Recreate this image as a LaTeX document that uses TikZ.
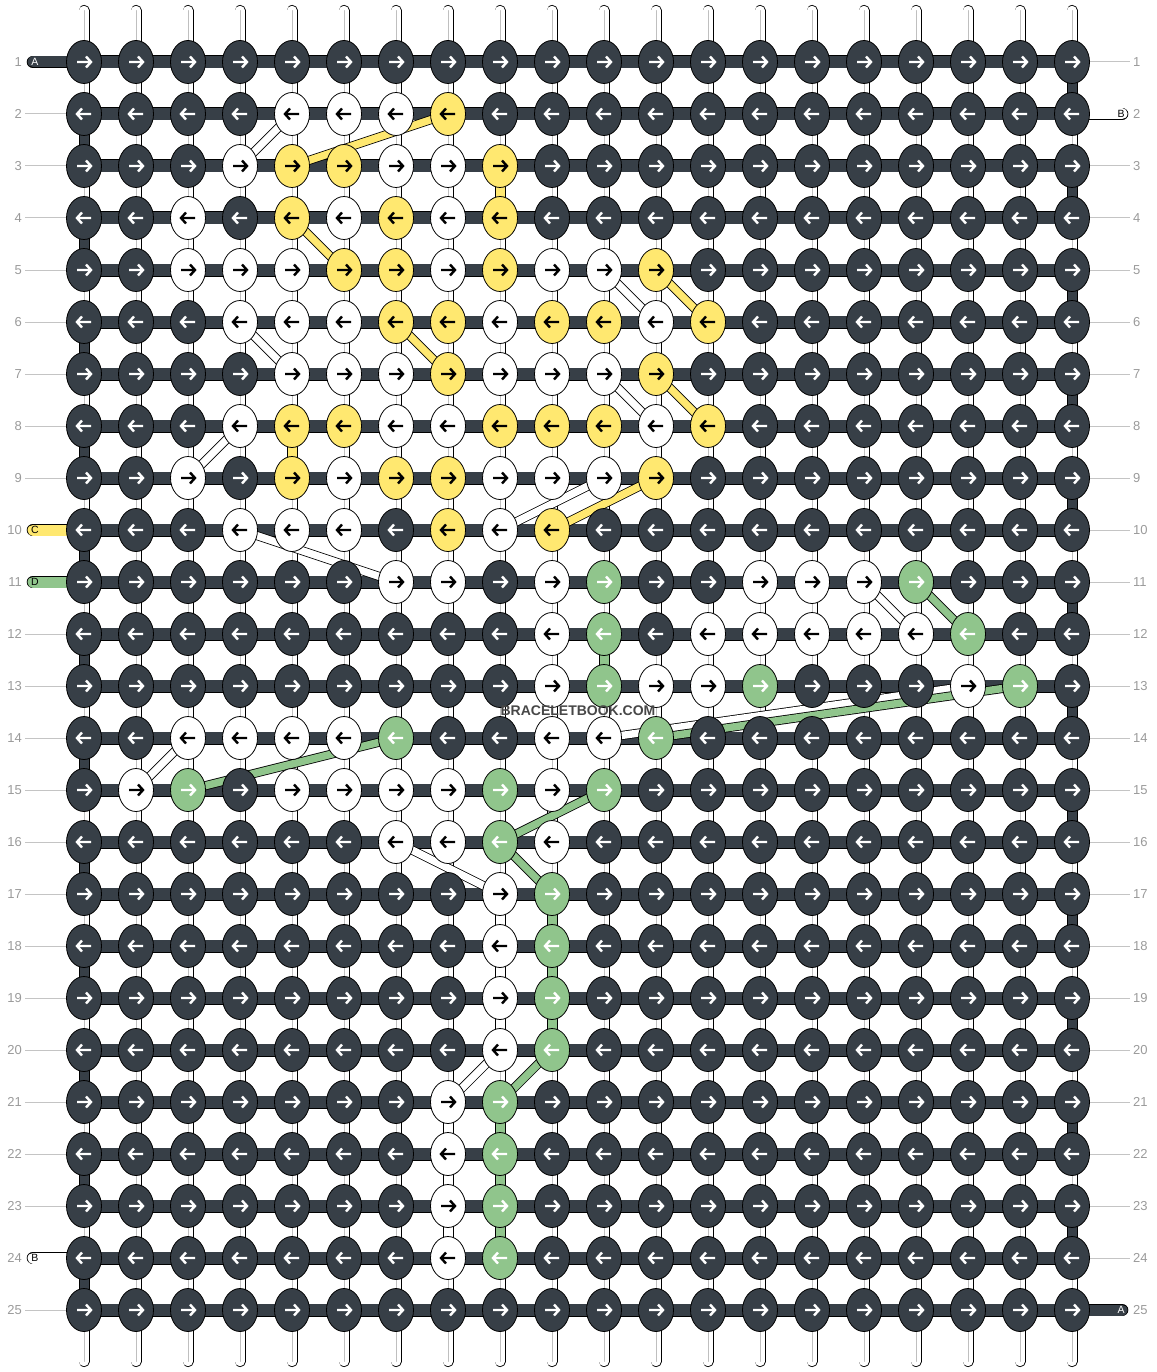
\documentclass[tikz,border=0pt]{standalone}
\usepackage{fontspec}
\setmainfont{Liberation Sans}
\usetikzlibrary{shapes.geometric}

\definecolor{colD}{HTML}{373F47}
\definecolor{colW}{HTML}{FFFFFF}
\definecolor{colY}{HTML}{FFE870}
\definecolor{colG}{HTML}{90C58C}
\colorlet{arD}{white}
\colorlet{arW}{black}
\colorlet{arY}{black}
\colorlet{arG}{white}
\definecolor{guidegray}{HTML}{C4C4C4}
\definecolor{numgray}{HTML}{9A9A9A}

\begin{document}
\begin{tikzpicture}[x=1pt,y=-1pt,
    knot/.style={ellipse,draw=black,line width=0.8pt,fill=col#1,minimum width=35pt,minimum height=43pt,inner sep=0pt},
    band/.style={draw=black,line width=9pt,postaction={draw=#1,line width=7.4pt}},
    vbar/.style={draw=black,line width=10.6pt,postaction={draw=#1,line width=9pt}},
    rowbar/.style={draw=black,line width=13pt,postaction={draw=colD,line width=11.4pt}},
    basestr/.style={line cap=round,draw=black,line width=11pt,postaction={draw=white,line width=9.4pt},postaction={draw=black!25,line width=0.8pt}},
    tabbar/.style={line cap=round,draw=black,line width=12.6pt,postaction={draw=#1,line width=11pt}},
    arr/.pic={\draw[line width=2.4pt] (-7,0) -- (7,0) (2,-5.5) -- (7,0) -- (2,5.5);},
    rownum/.style={text=numgray,font=\fontsize{13}{15}\selectfont,inner sep=3pt},
    guide/.style={draw=guidegray,line width=1pt},
    tablbl/.style={font=\fontsize{10.5}{12}\selectfont,inner sep=0pt}]
\useasboundingbox (0,0) rectangle (1156,1372);

% grid points
\foreach \r in {1,...,25}
  \foreach \c in {1,...,20}
    \coordinate (p-\r-\c) at ({32+52*\c},{10+52*\r});

% base strings
\foreach \c in {1,...,20}
  \draw[basestr] ({32+52*\c},10.5) -- ({32+52*\c},1361.5);

% knotting rows and their turns
\foreach \r in {1,...,25}
  \draw[rowbar] (p-\r-1) -- (p-\r-20);
\foreach \r [evaluate=\r as \s using int(\r+1)] in {2,4,...,24}
  \draw[vbar=colD] (p-\r-1) -- (p-\s-1);
\foreach \r [evaluate=\r as \s using int(\r+1)] in {1,3,...,23}
  \draw[vbar=colD] (p-\r-20) -- (p-\s-20);

% colour running down
\foreach \a/\b/\col in {3-9/4-9/colY, 8-5/9-5/colY,
    12-11/13-11/colG, 17-10/18-10/colG, 18-10/19-10/colG, 19-10/20-10/colG,
    21-9/22-9/colG, 22-9/23-9/colG, 23-9/24-9/colG,
    15-10/16-10/colW, 17-9/18-9/colW, 18-9/19-9/colW, 19-9/20-9/colW,
    21-8/22-8/colW, 22-8/23-8/colW, 23-8/24-8/colW}
  \draw[vbar=\col] (p-\a) -- (p-\b);

% strands carried across
\foreach \a/\b/\col in {2-8/3-5/colY, 4-5/5-6/colY, 6-7/7-8/colY,
    5-12/6-13/colY, 7-12/8-13/colY, 9-12/10-10/colY,
    2-5/3-4/colW, 6-4/7-5/colW, 8-4/9-3/colW, 10-4/11-7/colW,
    9-11/10-9/colW, 5-11/6-12/colW, 7-11/8-12/colW, 11-16/12-17/colW,
    13-18/14-11/colW, 14-3/15-2/colW, 16-7/17-9/colW, 20-9/21-8/colW,
    11-17/12-18/colG, 14-12/13-19/colG, 14-7/15-3/colG,
    15-11/16-9/colG, 16-9/17-10/colG, 20-10/21-9/colG}
  \draw[band=\col] (p-\a) -- (p-\b);

% string ends
\coordinate (tA1) at (33,62);
\coordinate (tC) at (33,530);
\coordinate (tD) at (33,582);
\coordinate (tB1) at (33,1258);
\coordinate (tB2) at (1122,114);
\coordinate (tA2) at (1122,1310);
\draw[tabbar=colD] (tA1) -- (p-1-1);
\draw[tabbar=colY] (tC) -- (p-10-1);
\draw[tabbar=colG] (tD) -- (p-11-1);
\draw[tabbar=colW] (tB1) -- (p-24-1);
\draw[tabbar=colW] (p-2-20) -- (tB2);
\draw[tabbar=colD] (p-25-20) -- (tA2);
\node[tablbl,text=white] (lA1) at (35,62) {A};
\node[tablbl] (lC) at (35,530) {C};
\node[tablbl] (lD) at (35,582) {D};
\node[tablbl] (lB1) at (35,1258) {B};
\node[tablbl] (lB2) at (1121,114) {B};
\node[tablbl,text=white] (lA2) at (1121,1310) {A};

% knots
\foreach \r/\cols in {
    1/{D,D,D,D,D,D,D,D,D,D,D,D,D,D,D,D,D,D,D,D},
    2/{D,D,D,D,W,W,W,Y,D,D,D,D,D,D,D,D,D,D,D,D},
    3/{D,D,D,W,Y,Y,W,W,Y,D,D,D,D,D,D,D,D,D,D,D},
    4/{D,D,W,D,Y,W,Y,W,Y,D,D,D,D,D,D,D,D,D,D,D},
    5/{D,D,W,W,W,Y,Y,W,Y,W,W,Y,D,D,D,D,D,D,D,D},
    6/{D,D,D,W,W,W,Y,Y,W,Y,Y,W,Y,D,D,D,D,D,D,D},
    7/{D,D,D,D,W,W,W,Y,W,W,W,Y,D,D,D,D,D,D,D,D},
    8/{D,D,D,W,Y,Y,W,W,Y,Y,Y,W,Y,D,D,D,D,D,D,D},
    9/{D,D,W,D,Y,W,Y,Y,W,W,W,Y,D,D,D,D,D,D,D,D},
    10/{D,D,D,W,W,W,D,Y,W,Y,D,D,D,D,D,D,D,D,D,D},
    11/{D,D,D,D,D,D,W,W,D,W,G,D,D,W,W,W,G,D,D,D},
    12/{D,D,D,D,D,D,D,D,D,W,G,D,W,W,W,W,W,G,D,D},
    13/{D,D,D,D,D,D,D,D,D,W,G,W,W,G,D,D,D,W,G,D},
    14/{D,D,W,W,W,W,G,D,D,W,W,G,D,D,D,D,D,D,D,D},
    15/{D,W,G,D,W,W,W,W,G,W,G,D,D,D,D,D,D,D,D,D},
    16/{D,D,D,D,D,D,W,W,G,W,D,D,D,D,D,D,D,D,D,D},
    17/{D,D,D,D,D,D,D,D,W,G,D,D,D,D,D,D,D,D,D,D},
    18/{D,D,D,D,D,D,D,D,W,G,D,D,D,D,D,D,D,D,D,D},
    19/{D,D,D,D,D,D,D,D,W,G,D,D,D,D,D,D,D,D,D,D},
    20/{D,D,D,D,D,D,D,D,W,G,D,D,D,D,D,D,D,D,D,D},
    21/{D,D,D,D,D,D,D,W,G,D,D,D,D,D,D,D,D,D,D,D},
    22/{D,D,D,D,D,D,D,W,G,D,D,D,D,D,D,D,D,D,D,D},
    23/{D,D,D,D,D,D,D,W,G,D,D,D,D,D,D,D,D,D,D,D},
    24/{D,D,D,D,D,D,D,W,G,D,D,D,D,D,D,D,D,D,D,D},
    25/{D,D,D,D,D,D,D,D,D,D,D,D,D,D,D,D,D,D,D,D}}{
  \pgfmathtruncatemacro\dir{1-2*mod(\r+1,2)}
  \foreach \k [count=\c] in \cols {
    \node[knot=\k] (k-\r-\c) at (p-\r-\c) {};
    \pic[xscale=\dir,color=ar\k] at (p-\r-\c) {arr};
  }
}

% row numbers
\foreach \r in {1,...,25} {
  \node[rownum,anchor=east] (ln-\r) at (25,{10+52*\r}) {\r};
  \node[rownum,anchor=west] (rn-\r) at (1130,{10+52*\r}) {\r};
}
\foreach \r in {2,3,...,9,12,13,...,23,25}
  \draw[guide] (ln-\r) -- (k-\r-1);
\foreach \r in {1,3,4,...,24}
  \draw[guide] (k-\r-20) -- (rn-\r);

\node[font=\bfseries\fontsize{14}{16}\selectfont,text=black!72,inner sep=0pt] (logo) at (578,711) {BRACELETBOOK.COM};
\end{tikzpicture}
\end{document}
